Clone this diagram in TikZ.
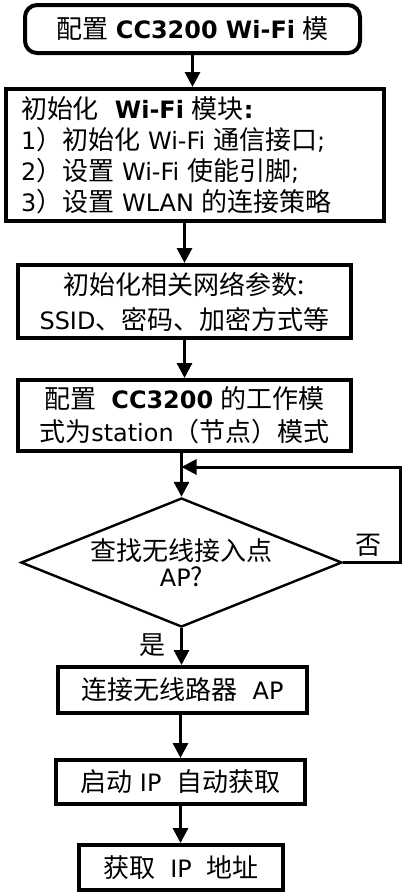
\documentclass[tikz,border=0pt]{standalone}
\usepackage{fontspec}
\setmainfont[Scale=0.92]{DejaVu Sans}
\newfontfamily\zhfont{Noto Sans CJK SC}
\newcommand{\zh}[1]{{\zhfont #1}}
\usetikzlibrary{arrows.meta,shapes.geometric}

\begin{document}
\begin{tikzpicture}[x=0.5pt,y=-0.5pt,
    box/.style={draw,line width=2pt,inner sep=2pt,align=center,font=\fontsize{13}{17.5}\selectfont},
    startbox/.style={box,rounded corners=6pt},
    decision/.style={draw,diamond,line width=1.2pt,aspect=2.46,inner sep=1pt,align=center,
      minimum width=160.5pt,minimum height=64.5pt,font=\fontsize{13}{13}\selectfont},
    arr/.style={line width=1.5pt,-{Triangle[length=7.5pt,width=7.5pt]}},
    lbl/.style={inner sep=0pt,font=\fontsize{13}{15}\selectfont}]
  \useasboundingbox (0,0) rectangle (408,896);

  \node[startbox,minimum width=167.5pt,minimum height=24pt] (title) at (192.5,29)
    {\zh{配置} \textbf{CC3200 Wi-Fi} \zh{模}};
  \node[box,align=left,text width=174pt,inner xsep=7.5pt,minimum height=66pt,
    font=\fontsize{13}{15.5}\selectfont] (init) at (195,155)
    {\zh{初始化}~~\textbf{Wi-Fi} \zh{模块}\textbf{:}\\
     1\zh{）初始化} Wi-Fi \zh{通信接口};\\
     2\zh{）设置} Wi-Fi \zh{使能引脚};\\
     3\zh{）设置} WLAN \zh{的连接策略}};
  \node[box,minimum width=166.5pt,minimum height=36.5pt] (params) at (184.5,301.5)
    {\zh{初始化相关网络参数:}\\SSID\zh{、密码、加密方式等}};
  \node[box,minimum width=166.5pt,minimum height=35.5pt,font=\fontsize{13}{16.5}\selectfont] (mode) at (184.5,415.5)
    {\zh{配置}~~\textbf{CC3200} \zh{的工作模}\\\zh{式为}station\zh{（节点）模式}};
  \node[decision] (search) at (181.5,562.5) {\zh{查找无线接入点}\\AP\zh{?}};
  \node[box,minimum width=124.5pt,minimum height=23pt] (connect) at (182.5,690)
    {\zh{连接无线路器}~~AP};
  \node[box,minimum width=124.5pt,minimum height=22pt] (dhcp) at (180.5,782)
    {\zh{启动} IP~~\zh{自动获取}};
  \node[box,minimum width=102pt,minimum height=22.5pt] (ipaddr) at (181,867.5)
    {\zh{获取}~~IP~~\zh{地址}};

  \node[lbl] (no) at (368,545) {\zh{否}};
  \node[lbl] (yes) at (153,645) {\zh{是}};
  \coordinate (loop) at (181.5,467);

  \draw[arr] (title.south) -- (title.south |- init.north);
  \draw[arr] (params.north |- init.south) -- (params.north);
  \draw[arr] (params.south) -- (mode.north);
  \draw[arr] (search.north |- mode.south) -- (search.north);
  \draw[arr] (search.east) -- ++(57,0) |- (loop);
  \draw[arr] (search.south) -- (search.south |- connect.north);
  \draw[arr] (dhcp.north |- connect.south) -- (dhcp.north);
  \draw[arr] (dhcp.south) -- (dhcp.south |- ipaddr.north);
\end{tikzpicture}
\end{document}
